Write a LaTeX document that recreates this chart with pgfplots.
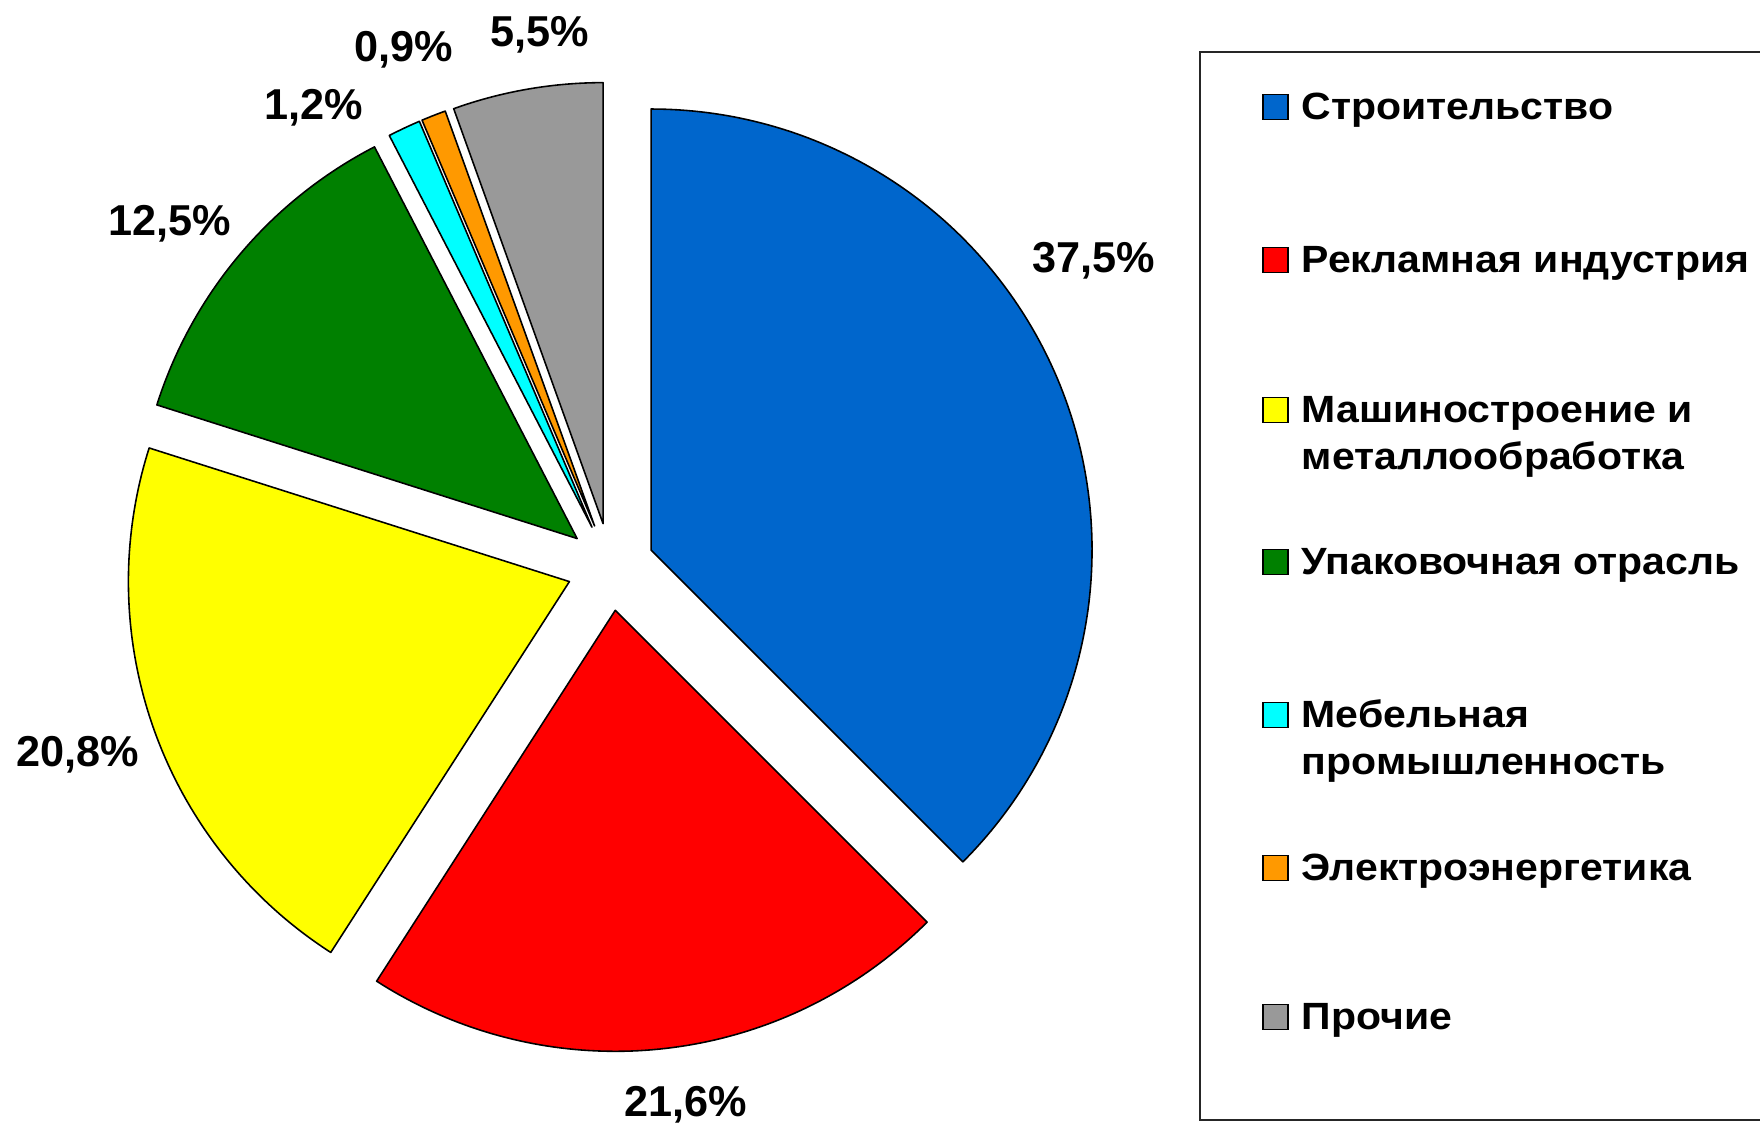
\documentclass[border=0pt]{standalone}
\usepackage{pgfplots}
\pgfplotsset{compat=1.18}
\usepackage{fontspec}
\setmainfont{Liberation Sans}
\newfontfamily\legfont{Liberation Sans}[FakeStretch=1.08]
\definecolor{pblue}{RGB}{0,102,204}
\definecolor{pred}{RGB}{255,0,0}
\definecolor{pyellow}{RGB}{255,255,0}
\definecolor{pgreen}{RGB}{0,128,0}
\definecolor{pcyan}{RGB}{0,255,255}
\definecolor{porange}{RGB}{255,153,0}
\definecolor{pgray}{RGB}{153,153,153}
\def\cx{610.6}\def\cy{557.2}\def\rr{441}\def\dd{43.8}
\gdef\cum{0}
\newcommand\slice[2]{%
  \pgfmathsetmacro\aA{90-3.6*\cum}%
  \pgfmathsetmacro\aB{90-3.6*(\cum+#1)}%
  \pgfmathsetmacro\aM{(\aA+\aB)/2}%
  \pgfmathsetmacro\ox{\cx+\dd*cos(\aM)}%
  \pgfmathsetmacro\oy{\cy+\dd*sin(\aM)}%
  \pgfmathtruncatemacro\ns{max(6,4*#1)}%
  \pgfmathsetmacro\newcum{\cum+#1}\xdef\cum{\newcum}%
  \edef\doslice{\noexpand\addplot[draw=black, line width=0.45pt, fill=#2, line join=round, domain=\aB:\aA, samples=\ns] ({\ox+\rr*cos(x)},{\oy+\rr*sin(x)}) -- (axis cs:\ox,\oy) -- cycle;}%
  \doslice}
\newcommand\legbox[2]{\draw[line width=0.5pt, fill=#2] (axis cs:1263,#1-12.5) rectangle (axis cs:1288,#1+12.5);}
\newcommand\lab{\fontsize{12.3}{14}\selectfont\bfseries}
\newcommand\leg{\legfont\fontsize{10.8}{13}\selectfont\bfseries}
\begin{document}
\begin{tikzpicture}
\useasboundingbox (0,0) rectangle (176mm,112.4mm);
\clip (0,0) rectangle (176mm,112.4mm);
\begin{axis}[scale only axis, width=176mm, height=112.4mm,
  xmin=0, xmax=1760, ymin=0, ymax=1124, hide axis, clip=false]
\slice{37.5}{pblue}
\slice{21.6}{pred}
\slice{20.8}{pyellow}
\slice{12.5}{pgreen}
\slice{1.2}{pcyan}
\slice{0.9}{porange}
\slice{5.5}{pgray}
% data labels
\node[font=\lab, anchor=base, inner sep=0] at (axis cs:1094,851) {37,5\%};
\node[font=\lab, anchor=base, inner sep=0] at (axis cs:686,7) {21,6\%};
\node[font=\lab, anchor=base, inner sep=0] at (axis cs:78,357) {20,8\%};
\node[font=\lab, anchor=base, inner sep=0] at (axis cs:170,888) {12,5\%};
\node[font=\lab, anchor=base, inner sep=0] at (axis cs:314,1004) {1,2\%};
\node[font=\lab, anchor=base, inner sep=0] at (axis cs:404,1062) {0,9\%};
\node[font=\lab, anchor=base, inner sep=0] at (axis cs:540,1077) {5,5\%};
% legend
\draw[line width=0.7pt, black!85] (axis cs:1790,1072) -- (axis cs:1200,1072) -- (axis cs:1200,4) -- (axis cs:1790,4);
\legbox{1017}{pblue}
\legbox{864}{pred}
\legbox{714}{pyellow}
\legbox{562}{pgreen}
\legbox{409}{pcyan}
\legbox{256}{porange}
\legbox{107}{pgray}
\node[font=\leg, anchor=base west, inner sep=0] at (axis cs:1301,1004) {Строительство};
\node[font=\leg, anchor=base west, inner sep=0] at (axis cs:1301,851) {Рекламная индустрия};
\node[font=\leg, anchor=base west, inner sep=0] at (axis cs:1301,701) {Машиностроение и};
\node[font=\leg, anchor=base west, inner sep=0] at (axis cs:1301,654) {металлообработка};
\node[font=\leg, anchor=base west, inner sep=0] at (axis cs:1301,549) {Упаковочная отрасль};
\node[font=\leg, anchor=base west, inner sep=0] at (axis cs:1301,396) {Мебельная};
\node[font=\leg, anchor=base west, inner sep=0] at (axis cs:1301,349) {промышленность};
\node[font=\leg, anchor=base west, inner sep=0] at (axis cs:1301,243) {Электроэнергетика};
\node[font=\leg, anchor=base west, inner sep=0] at (axis cs:1301,94) {Прочие};
\end{axis}
\end{tikzpicture}
\end{document}
